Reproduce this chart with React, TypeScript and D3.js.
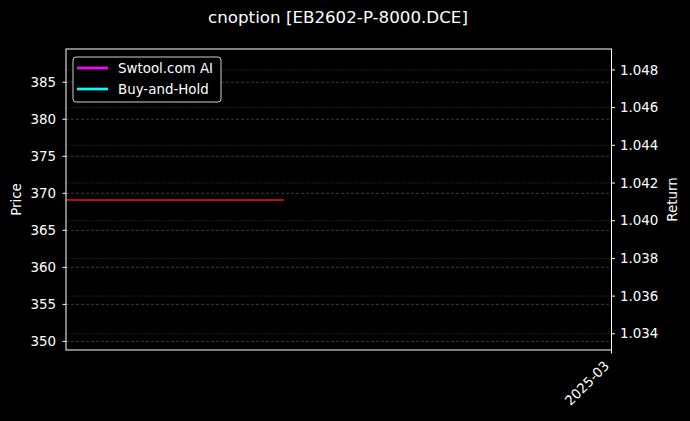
import React from 'react';
import * as d3 from 'd3';

// chart data
const dates = ['2025-02-24', '2025-02-25', '2025-02-26'];
const priceValues = [369.1, 369.1, 369.1];
const xDomain = ['2025-02-24', '2025-03-01'];
const xTicks = ['2025-03-01'];
const priceTicks = [350, 355, 360, 365, 370, 375, 380, 385];
const returnTicks = [1.034, 1.036, 1.038, 1.04, 1.042, 1.044, 1.046, 1.048];
const legendItems = [
  { label: 'Swtool.com AI', color: '#ff00ff' },
  { label: 'Buy-and-Hold', color: '#00ffff' },
];

const W = 690;
const H = 421;
const margin = { left: 66, right: 78.5, top: 49, bottom: 71 };
const FONT = '"DejaVu Sans", sans-serif';
const FS = 13.4;

export default function App(): React.ReactElement {
  const parse = d3.timeParse('%Y-%m-%d');
  const x = d3.scaleTime()
    .domain(xDomain.map((d) => parse(d) as Date))
    .range([margin.left, W - margin.right]);
  const yPrice = d3.scaleLinear()
    .domain([348.84, 389.49])
    .range([H - margin.bottom, margin.top]);
  const yReturn = d3.scaleLinear()
    .domain([1.03314, 1.04911])
    .range([H - margin.bottom, margin.top]);

  const line = d3.line<number>()
    .x((_, i) => x(parse(dates[i]) as Date))
    .y((d) => yPrice(d));

  const x0 = margin.left;
  const x1 = W - margin.right;
  const y0 = margin.top;
  const y1 = H - margin.bottom;
  const fmtX = d3.timeFormat('%Y-%m');

  return (
    <svg width={W} height={H} style={{ position: 'absolute', left: 0, top: 0 }} fontFamily={FONT}>
      <rect width={W} height={H} fill="#000" />

      <text x={338} y={22.5} textAnchor="middle" fill="#fff" fontSize={16.7}>
        cnoption [EB2602-P-8000.DCE]
      </text>

      {/* grids */}
      {priceTicks.map((t) => (
        <line key={`gp${t}`} x1={x0} x2={x1} y1={yPrice(t)} y2={yPrice(t)}
          stroke="#555" strokeWidth={0.7} strokeDasharray="3,2" />
      ))}
      {returnTicks.map((t) => (
        <line key={`gr${t}`} x1={x0} x2={x1} y1={yReturn(t)} y2={yReturn(t)}
          stroke="#3a3a3a" strokeWidth={0.7} strokeDasharray="1.5,1.5" />
      ))}

      <path d={line(priceValues) ?? ''} fill="none" stroke="#e8141c" strokeWidth={1.3} />

      {/* spines */}
      <rect x={x0} y={y0} width={x1 - x0} height={y1 - y0} fill="none" stroke="#fff" strokeWidth={1} />

      {/* left axis */}
      {priceTicks.map((t) => (
        <g key={`lp${t}`}>
          <line x1={x0 - 3.5} x2={x0} y1={yPrice(t)} y2={yPrice(t)} stroke="#fff" />
          <text x={x0 - 10} y={yPrice(t)} dy="0.35em" textAnchor="end" fill="#fff" fontSize={FS}>{t}</text>
        </g>
      ))}
      <text transform={`translate(21,${(y0 + y1) / 2}) rotate(-90)`} textAnchor="middle" fill="#fff" fontSize={FS}>Price</text>

      {/* right axis */}
      {returnTicks.map((t) => (
        <g key={`lr${t}`}>
          <line x1={x1} x2={x1 + 3.5} y1={yReturn(t)} y2={yReturn(t)} stroke="#fff" />
          <text x={x1 + 8.5} y={yReturn(t)} dy="0.35em" textAnchor="start" fill="#fff" fontSize={FS}>
            {d3.format('.3f')(t)}
          </text>
        </g>
      ))}
      <text transform={`translate(677,${(y0 + y1) / 2}) rotate(-90)`} textAnchor="middle" fill="#fff" fontSize={FS}>Return</text>

      {/* x axis */}
      {xTicks.map((t) => {
        const px = x(parse(t) as Date);
        return (
          <g key={`x${t}`}>
            <line x1={px} x2={px} y1={y1} y2={y1 + 3.5} stroke="#fff" />
            <text transform={`translate(${px - 8},${y1 + 10}) rotate(-45)`} textAnchor="end" dy="0.7em"
              fill="#fff" fontSize={FS}>{fmtX(parse(t) as Date)}</text>
          </g>
        );
      })}

      {/* legend */}
      <rect x={73} y={57} width={148} height={45} rx={3} fill="#000" stroke="#cfcfcf" strokeWidth={1} />
      {legendItems.map((item, i) => (
        <g key={item.label} transform={`translate(0,${68 + i * 21})`}>
          <line x1={77} x2={108} y1={0} y2={0} stroke={item.color} strokeWidth={2.7} />
          <text x={118} y={0} dy="0.35em" fill="#fff" fontSize={FS}>{item.label}</text>
        </g>
      ))}
    </svg>
  );
}
